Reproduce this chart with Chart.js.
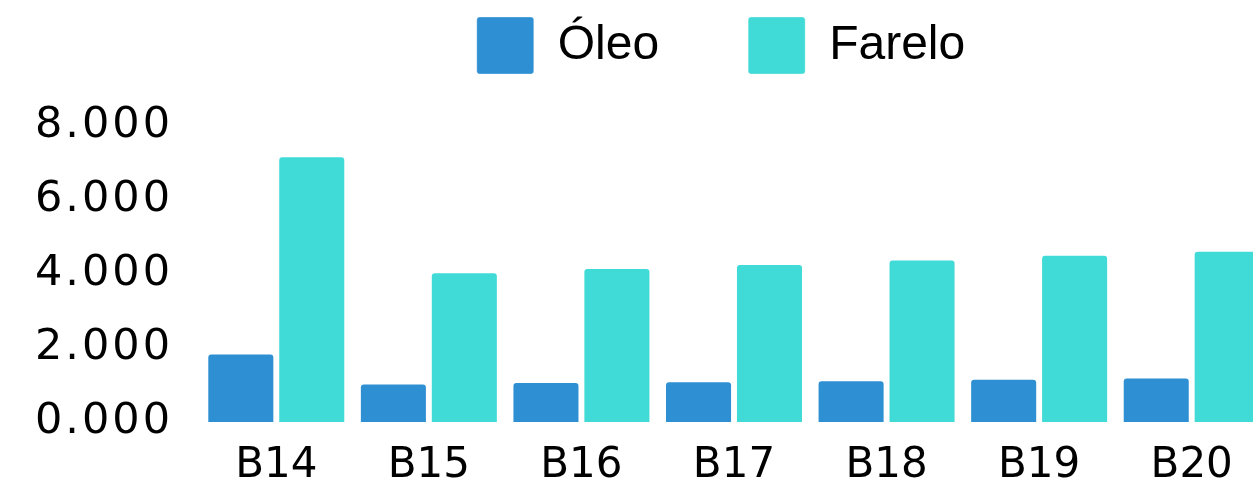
<!DOCTYPE html>
<html>
<head>
<meta charset="utf-8">
<script src="https://cdn.jsdelivr.net/npm/chart.js@4"></script>
<style>
  html, body { margin: 0; padding: 0; background: #ffffff; overflow: hidden; }
  #wrap { position: relative; width: 1268px; height: 485px; }
</style>
</head>
<body>
<div id="wrap"><canvas id="chart"></canvas></div>
<script>
// Blend levels on the x axis
const categories = ['B14', 'B15', 'B16', 'B17', 'B18', 'B19', 'B20'];
// Demand by product
const oleoValues = [1.85, 1.04, 1.08, 1.10, 1.13, 1.17, 1.20];
const fareloValues = [7.18, 4.05, 4.16, 4.27, 4.39, 4.52, 4.63];
const seriesNames = ['Óleo', 'Farelo'];
// Value axis labels
const yTickValues = [0, 2, 4, 6, 8];
const yTickLabels = ['0.000', '2.000', '4.000', '6.000', '8.000'];

const xTickFont = { family: 'DejaVu Sans', size: 42, lineHeight: 1 };
const yTickFont = { family: 'DejaVu Sans', size: 43, lineHeight: 1 };

// Slightly wider digit spacing for the value axis labels, drawn after the bars
const valueAxisSpacing = {
  id: 'valueAxisSpacing',
  beforeDraw(chart) { chart.ctx.letterSpacing = '0px'; },
  afterDatasetsDraw(chart) { chart.ctx.letterSpacing = '3px'; },
  afterDraw(chart) { chart.ctx.letterSpacing = '0px'; }
};

// Nudge the legend row a little to the left of the plot-area centre
const legendOffset = {
  id: 'legendOffset',
  afterLayout(chart) {
    chart.legend.left -= 13;
    chart.legend.right -= 13;
  }
};

new Chart(document.getElementById('chart'), {
  type: 'bar',
  data: {
    labels: categories,
    datasets: [
      {
        label: seriesNames[0],
        data: oleoValues,
        backgroundColor: '#2e90d3',
        borderColor: 'rgba(255,255,255,0.3)',
        borderWidth: 1,
        borderRadius: 4,
        categoryPercentage: 0.93,
        barPercentage: 0.945
      },
      {
        label: seriesNames[1],
        data: fareloValues,
        backgroundColor: '#40dad7',
        borderColor: 'rgba(255,255,255,0.3)',
        borderWidth: 1,
        borderRadius: 4,
        categoryPercentage: 0.93,
        barPercentage: 0.945
      }
    ]
  },
  plugins: [valueAxisSpacing, legendOffset],
  options: {
    responsive: true,
    maintainAspectRatio: false,
    animation: false,
    layout: { padding: { top: -72, left: 0, right: 0, bottom: 0 } },
    plugins: {
      legend: {
        position: 'top',
        weight: 3000,
        fullSize: false,
        labels: {
          boxWidth: 57,
          boxHeight: 57,
          padding: 89,
          color: '#000000',
          useBorderRadius: true,
          borderRadius: 3,
          font: { family: 'Liberation Sans', size: 48 }
        }
      },
      // empty spacer between the legend and the plot area
      title: {
        display: true,
        text: '',
        padding: 0,
        font: { size: 42, lineHeight: 1 }
      },
      tooltip: { enabled: false }
    },
    scales: {
      x: {
        grid: { display: false, drawTicks: false },
        border: { display: false },
        ticks: { z: 0, color: '#000000', font: xTickFont, padding: 23 },
        afterFit(scale) { scale.height = 63; }
      },
      y: {
        min: 0,
        max: 8,
        afterBuildTicks(scale) {
          scale.ticks = yTickValues.map(v => ({ value: v }));
        },
        grid: { display: false, drawTicks: false },
        border: { display: false },
        ticks: {
          z: 1,
          color: '#000000',
          font: yTickFont,
          padding: 27,
          callback(value) {
            const i = yTickValues.indexOf(value);
            return i >= 0 ? yTickLabels[i] : '';
          }
        },
        afterFit(scale) { scale.width = 200; }
      }
    }
  }
});
</script>
</body>
</html>
